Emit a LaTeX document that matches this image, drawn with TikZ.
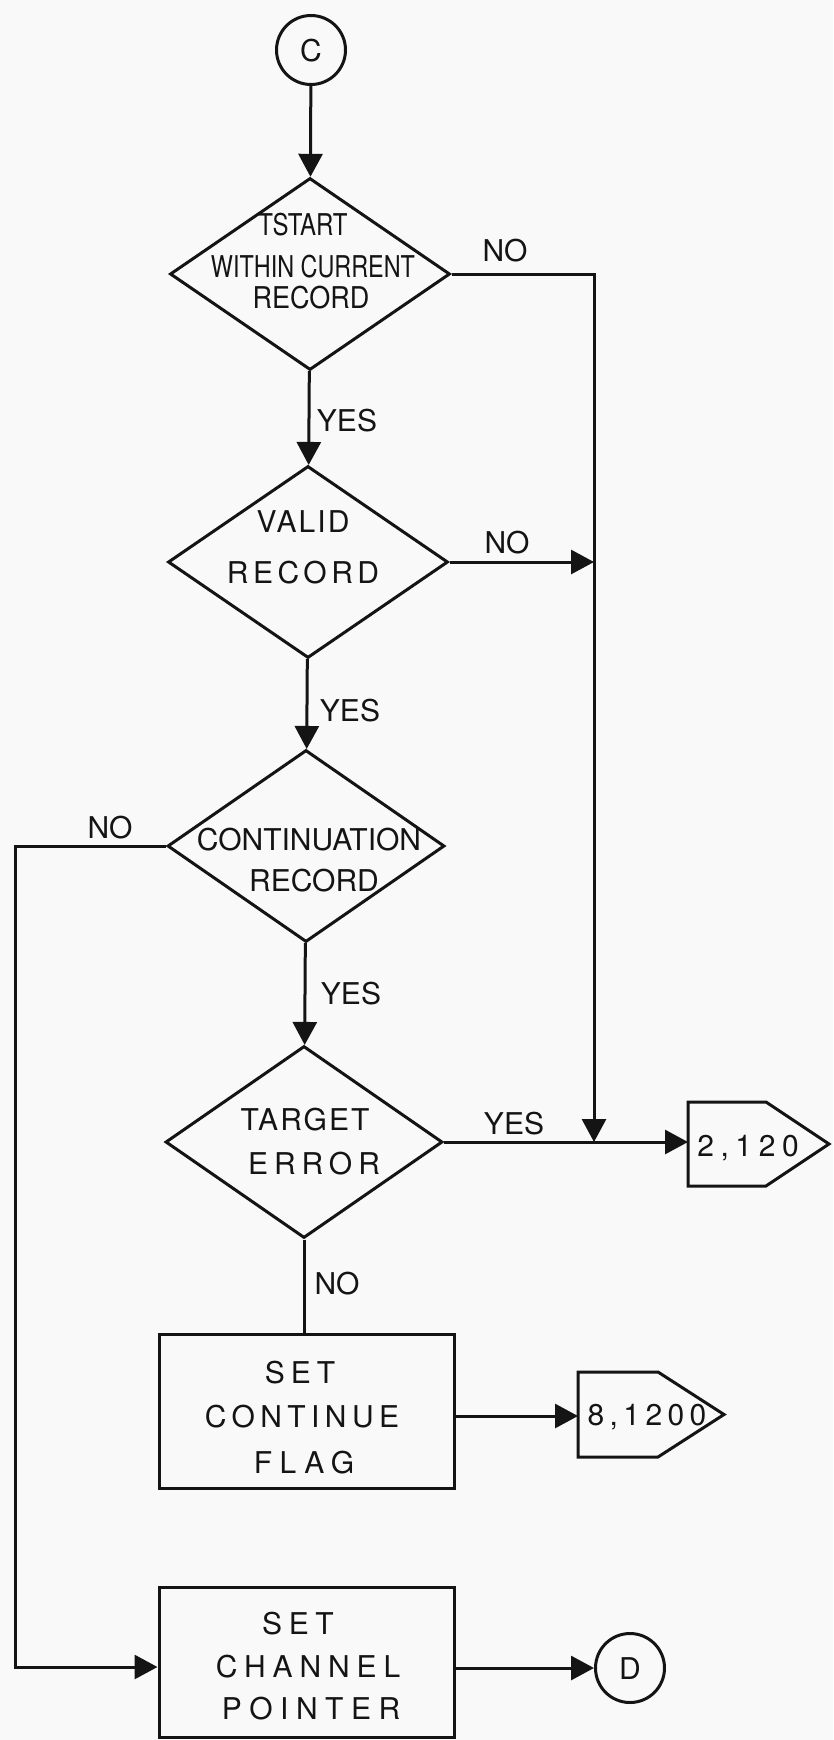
\documentclass[tikz,border=0pt]{standalone}
\usepackage{fontspec}
\usepackage{graphicx}
\setmainfont{TeX Gyre Heros}
\usetikzlibrary{arrows.meta,shapes.geometric}
\definecolor{ink}{gray}{0.08}
\definecolor{paper}{gray}{0.975}
\newcommand\LSp[2]{{\addfontfeature{LetterSpace=#1}#2}}
\begin{document}
\begin{tikzpicture}[x=1pt,y=-1pt,
  every node/.style={font=\fontsize{30}{36}\selectfont, text=ink},
  line/.style={draw=ink, line width=3pt},
  arr/.style={line, -{Triangle[length=23pt,width=24pt]}},
  diam/.style={draw=ink, line width=3pt, diamond, inner sep=0pt, minimum width=#1, minimum height=192pt},
  diam/.default=280pt,
  boxnode/.style={draw=ink, line width=3pt, rectangle, inner sep=0pt, minimum width=295pt, minimum height=#1},
  circnode/.style={draw=ink, line width=3pt, circle, inner sep=0pt, minimum size=69pt, text height=22pt, text depth=0pt},
  txt/.style={inner sep=0pt, text height=22pt, text depth=0pt},
  offpage/.style={draw=ink, line width=3pt, line join=miter}
]
\fill[paper] (0,0) rectangle (833,1740);
\useasboundingbox (0,0) rectangle (833,1740);

% connectors (C, D)
\node[circnode] (c) at (311,50) {C};
\node[circnode] (d) at (630,1668) {D};

% decisions
\node[diam] (d1) at (310,274) {};
\node[txt] (d1a) at (303,224) {\scalebox{0.8}[1]{TSTART}};
\node[txt] (d1b) at (313,266) {\scalebox{0.78}[1]{WITHIN CURRENT}};
\node[txt] (d1c) at (311,297) {\scalebox{0.9}[1]{RECORD}};

\node[diam] (d2) at (308,562) {};
\node[txt] (d2a) at (303,521) {\LSp{7}{VALID}};
\node[txt] (d2b) at (303,572) {\LSp{15}{RECORD}};

\node[diam=277pt] (d3) at (306,846) {};
\node[txt] (d3a) at (309,839) {CONTINUATION};
\node[txt] (d3b) at (314,880) {RECORD};

\node[diam=277pt] (d4) at (304,1142) {};
\node[txt] (d4a) at (305,1119) {\LSp{7}{TARGET}};
\node[txt] (d4b) at (314,1163) {\LSp{20}{ERROR}};

% process boxes
\node[boxnode=154pt] (b1) at (306.5,1411) {};
\node[txt] (b1a) at (300,1372) {\LSp{20}{SET}};
\node[txt] (b1b) at (302,1416) {\LSp{18}{CONTINUE}};
\node[txt] (b1c) at (304,1462) {\LSp{25}{FLAG}};

\node[boxnode=150pt] (b2) at (306.5,1662) {};
\node[txt] (b2a) at (298,1623) {\LSp{22}{SET}};
\node[txt] (b2b) at (308,1666) {\LSp{23}{CHANNEL}};
\node[txt] (b2c) at (311,1708) {\LSp{25}{POINTER}};

% off-page connectors
\draw[offpage] (688,1102) -- (766,1102) -- (829,1144) -- (766,1186) -- (688,1186) -- cycle;
\node[txt] (o1t) at (748,1145) {\LSp{22}{2,120}};
\coordinate (o1w) at (688,1142);

\draw[offpage] (578,1372) -- (658,1372) -- (724,1414.5) -- (658,1457) -- (578,1457) -- cycle;
\node[txt] (o2t) at (647,1414) {\LSp{18}{8,1200}};
\coordinate (o2w) at (578,1416);

% branch labels
\node[txt] (n1) at (505,250) {NO};
\node[txt] (y1) at (347,420) {YES};
\node[txt] (n2) at (507,542) {NO};
\node[txt] (y2) at (350,710) {YES};
\node[txt] (n3) at (110,827) {NO};
\node[txt] (y3) at (351,993) {YES};
\node[txt] (y4) at (514,1123) {YES};
\node[txt] (n4) at (337,1283) {NO};

% flow lines
\coordinate (rjoin) at (594,1142);
\coordinate (lcorner) at (15,1667);

\draw[arr] (c) -- (d1);
\draw[arr] (d1) -- (d2);
\draw[arr] (d2) -- (d3);
\draw[arr] (d3) -- (d4);
\draw[line] (d4.south) -- (d4.south |- b1.north);

\draw[arr] (d1.east) -- (d1.east -| rjoin) -- (rjoin);
\draw[arr] (d2.east) -- (d2.east -| rjoin);
\draw[arr] (d4.east) -- (o1w);

\draw[arr] (d3.west) -- (d3.west -| lcorner) -- (lcorner) -- (lcorner -| b2.west);

\draw[arr] (b1.east |- o2w) -- (o2w);
\draw[arr] (b2.east |- d) -- (d);
\end{tikzpicture}
\end{document}
